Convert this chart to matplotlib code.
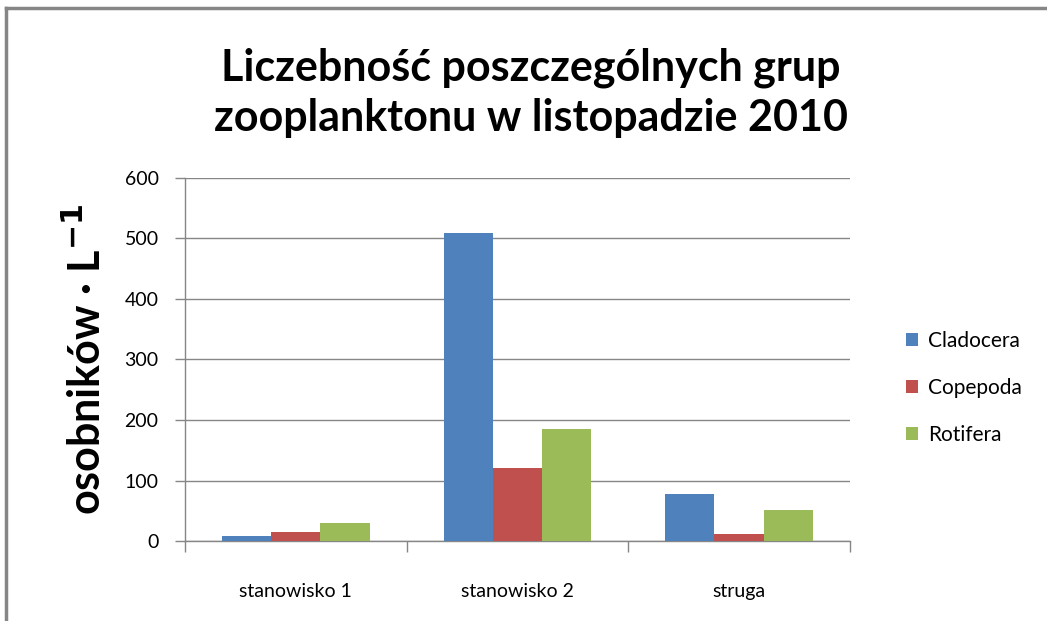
import numpy as np
import matplotlib.pyplot as plt
from matplotlib.lines import Line2D
from matplotlib.ticker import FixedLocator, NullFormatter

# dane
categories = ['stanowisko 1', 'stanowisko 2', 'struga']
cladocera = [8, 509, 78]
copepoda = [15, 121, 12]
rotifera = [30, 185, 51]
series = ['Cladocera', 'Copepoda', 'Rotifera']
colors = ['#4f81bd', '#c0504d', '#9bbb59']
yticks = [0, 100, 200, 300, 400, 500, 600]

plt.rcParams['font.family'] = ['Lato', 'DejaVu Sans']

fig = plt.figure(figsize=(10.47, 6.21), dpi=100)
ax = fig.add_axes([0.1767, 0.1288, 0.635, 0.5846])

x = np.arange(len(categories))
w = 1 / 4.5
for i, (vals, name, c) in enumerate(zip([cladocera, copepoda, rotifera], series, colors)):
    ax.bar(x + (i - 1) * w, vals, width=w, color=c, label=name, zorder=3)

ax.set_xlim(-0.5, len(categories) - 0.5)
ax.set_ylim(0, 600)
ax.set_yticks(yticks)
ax.yaxis.grid(True, color='#868686', linewidth=1.0, zorder=0)

# podziałki między kategoriami, etykiety na środku
ax.xaxis.set_major_locator(FixedLocator(np.arange(len(categories) + 1) - 0.5))
ax.xaxis.set_major_formatter(NullFormatter())
ax.xaxis.set_minor_locator(FixedLocator(x))
ax.set_xticklabels(categories, minor=True)
ax.tick_params(axis='x', which='major', length=8, color='#868686', width=1)
ax.tick_params(axis='x', which='minor', length=0, pad=30, labelsize=14)
ax.tick_params(axis='y', length=7, color='#868686', width=1, pad=12, labelsize=14)

for s in ['top', 'right']:
    ax.spines[s].set_visible(False)
for s in ['left', 'bottom']:
    ax.spines[s].set_color('#868686')
    ax.spines[s].set_linewidth(1.0)

ax.set_ylabel('osobników · L$^{\\mathbf{-1}}$', fontsize=31, fontweight='bold', labelpad=12)

fig.text(0.507, 0.851, 'Liczebność poszczególnych grup\nzooplanktonu w listopadzie 2010',
         ha='center', va='center', fontsize=31, fontweight='bold', linespacing=1.3)

ax.legend(loc='center left', bbox_to_anchor=(0.847, 0.375), bbox_transform=fig.transFigure,
          frameon=False, fontsize=15, labelspacing=1.3, handlelength=0.6, handleheight=0.6,
          handletextpad=0.5)

# ramka wykresu (widoczna lewa i górna krawędź)
fig.add_artist(Line2D([0.0057, 0.0057], [0.0, 0.987], transform=fig.transFigure,
                      color='#868686', linewidth=2.5))
fig.add_artist(Line2D([0.0057, 1.0], [0.987, 0.987], transform=fig.transFigure,
                      color='#868686', linewidth=2.5))

plt.savefig('out.png', dpi=100)
